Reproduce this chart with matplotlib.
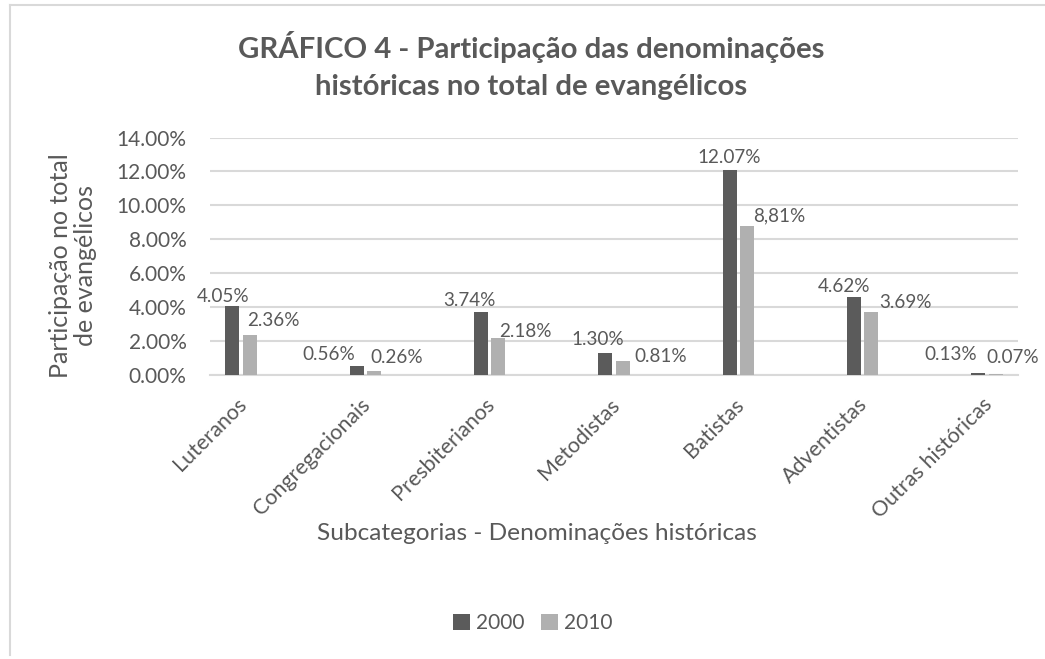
import matplotlib
matplotlib.use("Agg")
import matplotlib.pyplot as plt
import matplotlib.transforms as mtransforms
import numpy as np
from matplotlib.lines import Line2D
from matplotlib.patches import Patch

categories = ["Luteranos", "Congregacionais", "Presbiterianos", "Metodistas",
              "Batistas", "Adventistas", "Outras históricas"]
series_names = ["2000", "2010"]
values_2000 = [4.05, 0.56, 3.74, 1.30, 12.07, 4.62, 0.13]
values_2010 = [2.36, 0.26, 2.18, 0.81, 8.81, 3.69, 0.07]
labels_2000 = ["4.05%", "0.56%", "3.74%", "1.30%", "12.07%", "4.62%", "0.13%"]
labels_2010 = ["2.36%", "0.26%", "2.18%", "0.81%", "8,81%", "3.69%", "0.07%"]
yticks = [0, 2, 4, 6, 8, 10, 12, 14]

# label nudges (pixels): (dx from bar center, dy of label center above bar top)
nudge_2000 = [(-9, 10), (-28, 11), (-12, 11), (-8, 13), (0, 13), (-10, 10), (-28, 18)]
nudge_2010 = [(24, 14), (23, 13), (27, 7), (38, 5), (32, 10), (34, 10), (17, 16)]

FONT = "Lato"
TXT = "#595959"
DARK = "#5b5b5b"
LIGHT = "#b0b0b0"
GRID = "#d9d9d9"

plt.rcParams["font.family"] = [FONT, "DejaVu Sans"]

W, H = 1045, 659
fig = plt.figure(figsize=(W / 100, H / 100), dpi=100)
ax = fig.add_axes([210 / W, 1 - 375 / H, (1018 - 210) / W, (375 - 137.5) / H])

x = np.arange(len(categories))
bw = 0.113
off = 0.07
ax.bar(x - off, values_2000, bw, color=DARK, zorder=3)
ax.bar(x + off, values_2010, bw, color=LIGHT, zorder=3)

ax.set_xlim(-0.25, len(categories) - 0.75)
ax.set_ylim(0, 14)
ax.set_yticks(yticks)
ax.set_yticklabels([f"{t:.2f}%" for t in yticks], fontsize=15, color=TXT)
ax.yaxis.grid(True, color=GRID, linewidth=1.5, zorder=0)
ax.set_axisbelow(True)
for s in ["top", "right", "left"]:
    ax.spines[s].set_visible(False)
ax.spines["bottom"].set_color(GRID)
ax.spines["bottom"].set_linewidth(1.5)
ax.tick_params(axis="both", length=0)
ax.tick_params(axis="y", pad=17)

ax.set_xticks(x)
ax.set_xticklabels(categories, rotation=45, ha="right", va="top",
                   rotation_mode="anchor", fontsize=15.5, color=TXT)
ax.tick_params(axis="x", pad=14)
shift = mtransforms.ScaledTranslation(-5 / 100, 0, fig.dpi_scale_trans)
for lab in ax.get_xticklabels():
    lab.set_transform(lab.get_transform() + shift)

px = 0.72
for i in range(len(categories)):
    dx, dy = nudge_2000[i]
    ax.annotate(labels_2000[i], (x[i] - off, values_2000[i]),
                xytext=(dx * px, dy * px), textcoords="offset points",
                ha="center", va="center", fontsize=13.6, color=TXT)
    dx, dy = nudge_2010[i]
    ax.annotate(labels_2010[i], (x[i] + off, values_2010[i]),
                xytext=(dx * px, dy * px), textcoords="offset points",
                ha="center", va="center", fontsize=13.6, color=TXT)

fig.text(531 / W, 1 - 47 / H, "GRÁFICO 4 - Participação das denominações",
         ha="center", va="center", fontsize=21.2, fontweight="bold", color=TXT)
fig.text(531 / W, 1 - 87 / H, "históricas no total de evangélicos",
         ha="center", va="center", fontsize=21.2, fontweight="bold", color=TXT)

fig.text(73 / W, 1 - 266 / H, "Participação no total\nde evangélicos",
         rotation=90, ha="center", va="center", fontsize=18, color=TXT,
         linespacing=1.12, multialignment="center")
fig.text(537 / W, 1 - 533 / H, "Subcategorias - Denominações históricas",
         ha="center", va="center", fontsize=17.6, color=TXT)

handles = [Patch(facecolor=DARK), Patch(facecolor=LIGHT)]
leg = fig.legend(handles, series_names, loc="center", bbox_to_anchor=(533 / W, 1 - 623 / H),
                 ncol=2, frameon=False, fontsize=15, handlelength=0.8, handleheight=0.8,
                 handletextpad=0.3, columnspacing=0.8)
for t in leg.get_texts():
    t.set_color(TXT)

# chart border (top and left edges visible)
fig.add_artist(Line2D([9.5 / W, 9.5 / W], [1 - 655 / H, 1 - 5 / H], color=GRID, lw=1.5))
fig.add_artist(Line2D([9.5 / W, 1.0], [1 - 5 / H, 1 - 5 / H], color=GRID, lw=1.5))

fig.savefig("out.png", dpi=100, facecolor="white")
